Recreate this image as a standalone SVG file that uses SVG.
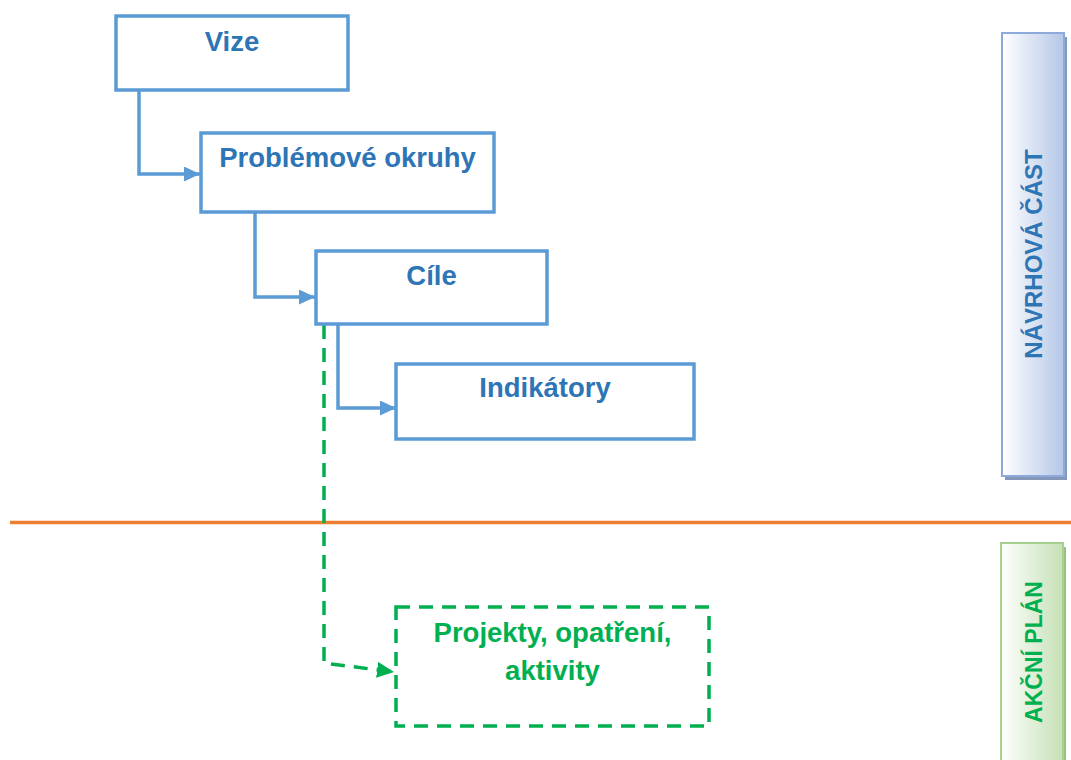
<svg xmlns="http://www.w3.org/2000/svg" width="1071" height="760" viewBox="0 0 1071 760">
<style>
.box{fill:#fff;stroke:#5B9BD5;stroke-width:3.5}
.gbox{fill:#fff;stroke:#00B050;stroke-width:3.5;stroke-dasharray:14 9}
.bl{font-family:"Liberation Sans",Arial,sans-serif;font-weight:bold;font-size:27.5px;fill:#2E75B6;text-anchor:middle}
.gr{font-family:"Liberation Sans",Arial,sans-serif;font-weight:bold;font-size:27.5px;fill:#00B050;text-anchor:middle}
.con{fill:none;stroke:#5B9BD5;stroke-width:3.5}
.gcon{fill:none;stroke:#00B050;stroke-width:3.5;stroke-dasharray:14 9}
</style>
<defs>
<marker id="ab" markerWidth="16" markerHeight="15" refX="16" refY="7.5" orient="auto" markerUnits="userSpaceOnUse" viewBox="0 0 16 15"><path d="M0,0 L16,7.5 L0,15 z" fill="#5B9BD5"/></marker>
<marker id="ag" markerWidth="17" markerHeight="16" refX="17" refY="8" orient="auto" markerUnits="userSpaceOnUse" viewBox="0 0 17 16"><path d="M0,0 L17,8 L0,16 z" fill="#00B050"/></marker>
<linearGradient id="gb" x1="0" y1="0" x2="1" y2="0"><stop offset="0" stop-color="#ffffff"/><stop offset="1" stop-color="#b4c7e7"/></linearGradient>
<linearGradient id="gg" x1="0" y1="0" x2="1" y2="0"><stop offset="0" stop-color="#ffffff"/><stop offset="1" stop-color="#c5e0b4"/></linearGradient>
</defs>
<line x1="10" y1="522.5" x2="1071" y2="522.5" stroke="#ED7D31" stroke-width="3.5"/>
<g id="navrhova">
<rect x="1005" y="37" width="62" height="443" fill="#8497b8"/>
<rect x="1002" y="33" width="62" height="443" fill="url(#gb)" stroke="#8EAADB" stroke-width="2"/>
<text class="bl" style="font-size:24px" transform="translate(1042,254) rotate(-90)">NÁVRHOVÁ ČÁST</text>
</g>
<g id="akcni">
<rect x="1004" y="547" width="62" height="220" fill="#9bbf84"/>
<rect x="1001" y="543" width="62" height="230" fill="url(#gg)" stroke="#A9D18E" stroke-width="2"/>
<text class="gr" style="font-size:23px" transform="translate(1042,652) rotate(-90)">AKČNÍ PLÁN</text>
</g>
<g id="connectors">
<path class="con" d="M139,90 V174 H200" marker-end="url(#ab)"/>
<path class="con" d="M255,212 V297 H315" marker-end="url(#ab)"/>
<path class="con" d="M338,324 V408 H396" marker-end="url(#ab)"/>
<path class="gcon" d="M324,325 V663 L394,672" marker-end="url(#ag)"/>
</g>
<g id="vize"><rect class="box" x="116" y="16" width="232" height="74"/><text class="bl" x="232" y="51">Vize</text></g>
<g id="problemove"><rect class="box" x="201" y="133" width="293" height="79"/><text class="bl" x="347.5" y="167">Problémové okruhy</text></g>
<g id="cile"><rect class="box" x="316" y="251" width="231" height="73"/><text class="bl" x="431.5" y="285">Cíle</text></g>
<g id="indikatory"><rect class="box" x="396" y="364" width="298" height="75"/><text class="bl" x="545" y="397">Indikátory</text></g>
<g id="projekty"><rect class="gbox" x="396" y="607" width="313" height="119"/><text class="gr" x="552.5" y="642">Projekty, opatření,</text><text class="gr" x="552.5" y="680">aktivity</text></g>
</svg>
